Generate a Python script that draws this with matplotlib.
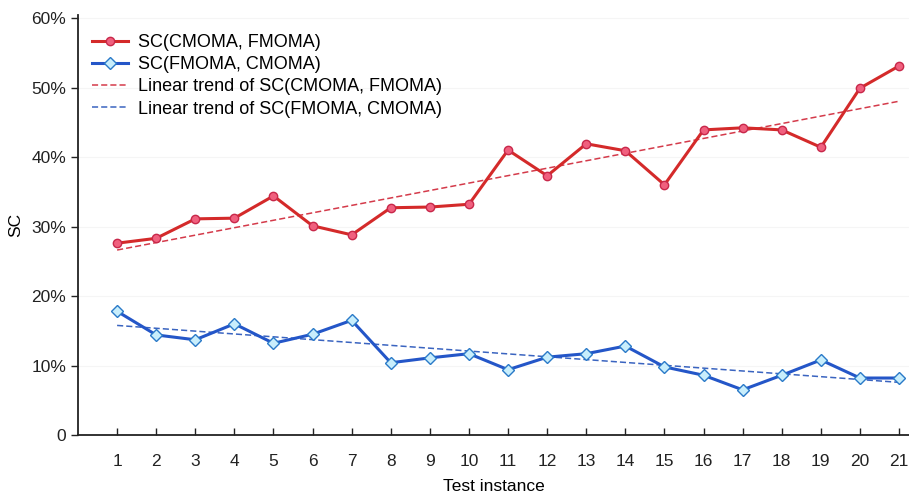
import numpy as np
import matplotlib
matplotlib.use("Agg")
import matplotlib.pyplot as plt
from matplotlib.ticker import FuncFormatter

plt.rcParams['font.family'] = ['Liberation Sans', 'DejaVu Sans']

instances = list(range(1, 22))
sc_cf = [27.6, 28.3, 31.1, 31.2, 34.4, 30.1, 28.8, 32.7, 32.8, 33.2, 41.0,
         37.3, 41.9, 40.9, 36.0, 43.9, 44.2, 43.9, 41.4, 49.9, 53.1]
sc_fc = [17.8, 14.4, 13.7, 16.0, 13.2, 14.5, 16.5, 10.4, 11.1, 11.7, 9.4,
         11.2, 11.7, 12.8, 9.8, 8.6, 6.5, 8.6, 10.8, 8.2, 8.2]
y_ticks = [0, 10, 20, 30, 40, 50, 60]

x = np.array(instances)
fit_cf = np.polyval(np.polyfit(x, sc_cf, 1), x)
fit_fc = np.polyval(np.polyfit(x, sc_fc, 1), x)

fig = plt.figure(figsize=(9.09, 4.94), dpi=100)
ax = fig.add_axes([0.0858, 0.1194, 0.914, 0.8512])

red = '#d42a2a'
blue = '#2456c8'
ax.plot(x, sc_cf, color=red, lw=2.2, marker='o', ms=6, mfc='#f0607e', mec='#c8284a', mew=1,
        label='SC(CMOMA, FMOMA)', zorder=3)
ax.plot(x, sc_fc, color=blue, lw=2.2, marker='D', ms=6, mfc='#c8eefc', mec='#2a7ac8', mew=1,
        label='SC(FMOMA, CMOMA)', zorder=3)
ax.plot(x, fit_cf, color='#d43a4a', lw=1.1, ls=(0, (4, 2)), label='Linear trend of SC(CMOMA, FMOMA)', zorder=2)
ax.plot(x, fit_fc, color='#3a64c0', lw=1.1, ls=(0, (4, 2)), label='Linear trend of SC(FMOMA, CMOMA)', zorder=2)

ax.set_xlim(0, 21.25)
ax.set_ylim(0, 60.5)
ax.set_xticks(instances)
ax.set_yticks(y_ticks)
ax.yaxis.set_major_formatter(FuncFormatter(lambda v, p: '0' if v == 0 else f'{int(v)}%'))
for g in y_ticks[1:]:
    ax.axhline(g, color='#f5f5f5', lw=0.8, zorder=0)

ax.spines['top'].set_visible(False)
ax.spines['right'].set_visible(False)
for s in ['left', 'bottom']:
    ax.spines[s].set_linewidth(1.3)
    ax.spines[s].set_color('#222222')
ax.tick_params(axis='x', direction='in', length=5, width=1, labelsize=12.5, pad=14, colors='#222222')
ax.tick_params(axis='y', direction='out', length=5, width=1, labelsize=12.5, colors='#222222')

ax.set_xlabel('Test instance', fontsize=12.5, labelpad=7)
ax.set_ylabel('SC', fontsize=12.5, labelpad=6)

leg = ax.legend(loc='upper left', bbox_to_anchor=(0.0, 0.985), frameon=False, fontsize=13,
                handlelength=2.0, handletextpad=0.55, labelspacing=0.28, borderaxespad=0.35)

fig.savefig('out.png', dpi=100)
